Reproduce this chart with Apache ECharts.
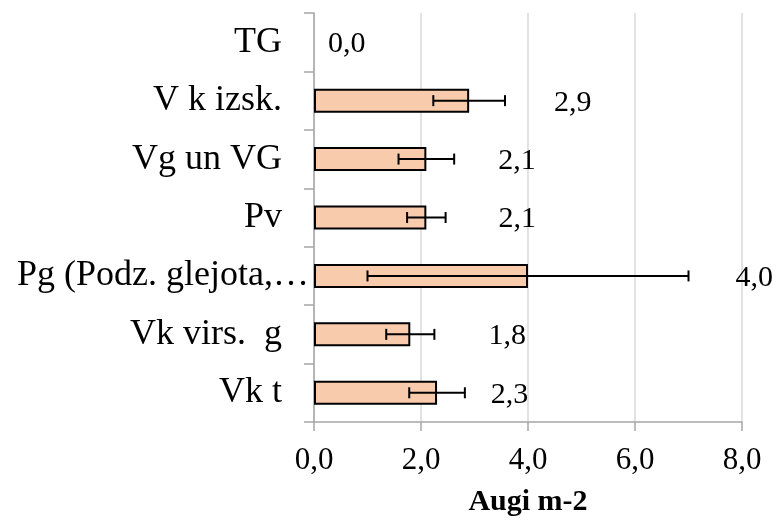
<!DOCTYPE html>
<html>
<head>
<meta charset="utf-8">
<script src="https://cdn.jsdelivr.net/npm/echarts@6/dist/echarts.min.js"></script>
<style>
  html, body { margin: 0; padding: 0; background: #fff; }
  #chart { width: 778px; height: 522px; }
</style>
</head>
<body>
<div id="chart"></div>
<script>
// Categories listed from the bottom of the axis to the top
var categories = ['Vk t', 'Vk virs.  g', 'Pg (Podz. glejota,\u2026', 'Pv', 'Vg un VG', 'V k izsk.', 'TG'];
// Mean density per category
var values = [2.3, 1.8, 4.0, 2.1, 2.1, 2.9, 0.0];
// Error bar half-widths
var errors = [0.52, 0.45, 3.0, 0.36, 0.52, 0.67, 0];
// Value axis ticks
var xTicks = [0, 2, 4, 6, 8];

// Horizontal pixel nudge of each value label beyond its error bar
var labelNudge = [26, 54, 47, 53, 44, 49, 14];

var FONT = '"Liberation Serif", "Times New Roman", serif';

var chart = echarts.init(document.getElementById('chart'), null, { renderer: 'canvas' });

var errData = values.map(function (v, i) { return [v, i, errors[i]]; });
var labelData = values.map(function (v, i) { return [v, i, errors[i], labelNudge[i]]; });

function fmt(v) { return v.toFixed(1).replace('.', ','); }

chart.setOption({
  animation: false,
  backgroundColor: '#ffffff',
  grid: { left: 314, right: 36, top: 13, bottom: 96, containLabel: false },
  xAxis: {
    type: 'value',
    min: xTicks[0],
    max: xTicks[xTicks.length - 1],
    interval: xTicks[1] - xTicks[0],
    name: 'Augi m-2',
    nameLocation: 'middle',
    nameGap: 65,
    nameTextStyle: { fontFamily: FONT, fontWeight: 'bold', fontSize: 30, color: '#000' },
    axisLine: { show: true, lineStyle: { color: '#a6a6a6', width: 1.5 } },
    axisTick: { show: true, length: 9, lineStyle: { color: '#a6a6a6', width: 1.5 } },
    splitLine: { show: true, lineStyle: { color: '#d9d9d9', width: 1.5 } },
    axisLabel: {
      margin: 23,
      fontFamily: FONT, fontSize: 31, color: '#000',
      formatter: function (v) { return fmt(v); }
    }
  },
  yAxis: {
    type: 'category',
    data: categories,
    axisLine: { show: true, lineStyle: { color: '#a6a6a6', width: 1.5 } },
    axisTick: { show: true, length: 10, lineStyle: { color: '#a6a6a6', width: 1.5 } },
    splitLine: { show: false },
    axisLabel: {
      margin: 32,
      fontFamily: FONT, fontSize: 36, color: '#000',
      formatter: function (v) {
        return v.indexOf('\u2026') >= 0 ? '{long|' + v + '}' : v;
      },
      rich: {
        long: { width: 265, align: 'left', fontFamily: FONT, fontSize: 36, color: '#000' }
      }
    }
  },
  series: [
    {
      type: 'bar',
      data: values.map(function (v) {
        return v === 0 ? { value: v, itemStyle: { borderWidth: 0 } } : v;
      }),
      barWidth: 24,
      itemStyle: { color: '#F8CBAD', borderColor: '#000', borderWidth: 2 },
      z: 2
    },
    {
      type: 'custom',
      data: errData,
      z: 3,
      renderItem: function (params, api) {
        var v = api.value(0), c = api.value(1), e = api.value(2);
        if (!e) return null;
        var lo = api.coord([v - e, c]);
        var hi = api.coord([v + e, c]);
        var y = lo[1], h = 5.5;
        var st = { stroke: '#000', lineWidth: 2 };
        return {
          type: 'group',
          children: [
            { type: 'line', shape: { x1: lo[0], y1: y, x2: hi[0], y2: y }, style: st },
            { type: 'line', shape: { x1: lo[0], y1: y - h, x2: lo[0], y2: y + h }, style: st },
            { type: 'line', shape: { x1: hi[0], y1: y - h, x2: hi[0], y2: y + h }, style: st }
          ]
        };
      }
    },
    {
      type: 'custom',
      data: labelData,
      z: 4,
      renderItem: function (params, api) {
        var v = api.value(0), c = api.value(1), e = api.value(2), n = api.value(3);
        var p = api.coord([v + e, c]);
        return {
          type: 'text',
          style: {
            x: p[0] + n, y: p[1] + 2,
            text: fmt(v),
            fontFamily: FONT, fontSize: 30, fill: '#000',
            align: 'left', verticalAlign: 'middle'
          }
        };
      }
    }
  ]
});
</script>
</body>
</html>
